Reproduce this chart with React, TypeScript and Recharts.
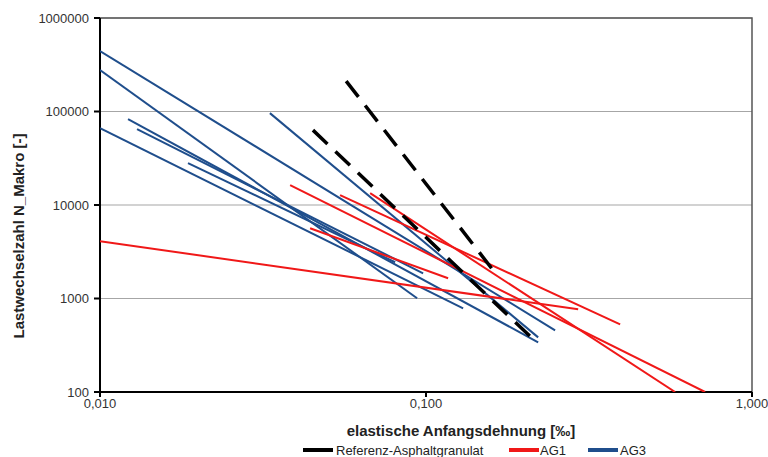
import React from 'react';
import { ScatterChart, Scatter, XAxis, YAxis, CartesianGrid, ReferenceArea } from 'recharts';

// x: elastische Anfangsdehnung [‰], y: Lastwechselzahl N_Makro [-]
const xTicks = [0.01, 0.1, 1];
const yTicks = [100, 1000, 10000, 100000, 1000000];

// Referenz-Asphaltgranulat (dashed black)
const ref1 = [{ x: 0.0569, y: 211600 }, { x: 0.1607, y: 2004 }];
const ref2 = [{ x: 0.045, y: 63200 }, { x: 0.2087, y: 394 }];

// AG1 (red)
const ag1a = [{ x: 0.01, y: 4097 }, { x: 0.2929, y: 766 }];
const ag1b = [{ x: 0.0383, y: 16290 }, { x: 0.718, y: 100 }];
const ag1c = [{ x: 0.0545, y: 12730 }, { x: 0.394, y: 529 }];
const ag1d = [{ x: 0.0674, y: 13380 }, { x: 0.581, y: 100 }];
const ag1e = [{ x: 0.0441, y: 5644 }, { x: 0.1169, y: 1646 }];

// AG3 (blue)
const ag3a = [{ x: 0.01, y: 443400 }, { x: 0.2489, y: 457 }];
const ag3b = [{ x: 0.01, y: 277500 }, { x: 0.0939, y: 1005 }];
const ag3c = [{ x: 0.01, y: 66400 }, { x: 0.13, y: 785 }];
const ag3d = [{ x: 0.01219, y: 82900 }, { x: 0.2208, y: 340 }];
const ag3e = [{ x: 0.01299, y: 64800 }, { x: 0.098, y: 1861 }];
const ag3f = [{ x: 0.01862, y: 28030 }, { x: 0.0804, y: 2441 }];
const ag3g = [{ x: 0.0332, y: 96100 }, { x: 0.2208, y: 384 }];

const refSeries = [ref1, ref2];
const ag1Series = [ag1a, ag1b, ag1c, ag1d, ag1e];
const ag3Series = [ag3a, ag3b, ag3c, ag3d, ag3e, ag3f, ag3g];

const BLUE = '#1f4e8c';
const RED = '#f01818';
const BLACK = '#000000';

const noShape = () => <g />;
const fmtX = (v: number) => v.toFixed(3).replace('.', ',');
const fmtY = (v: number) => String(v);

export default function App() {
  const font = '"Liberation Sans", Arial, sans-serif';
  return (
    <div style={{ position: 'absolute', left: 0, top: 0, width: 768, height: 457, fontFamily: font, background: '#fff' }}>
      <ScatterChart width={768} height={457} margin={{ top: 18, right: 16, bottom: 35, left: 0 }}>
        <CartesianGrid vertical={false} stroke="#a6a6a6" strokeWidth={1.2} />
        <ReferenceArea x1={0.01} x2={1} y1={100} y2={1000000} fill="none" stroke="#555" strokeWidth={1.5} ifOverflow="extendDomain" />
        <XAxis
          type="number"
          dataKey="x"
          scale="log"
          domain={[0.01, 1]}
          ticks={xTicks}
          tickFormatter={fmtX}
          allowDataOverflow
          height={30}
          stroke="#000"
          strokeWidth={2}
          tickSize={5}
          tick={{ fill: '#333', fontSize: 13, fontFamily: font }}
        />
        <YAxis
          type="number"
          dataKey="y"
          scale="log"
          domain={[100, 1000000]}
          ticks={yTicks}
          tickFormatter={fmtY}
          allowDataOverflow
          width={100}
          stroke="#000"
          strokeWidth={2}
          tickSize={6}
          tickMargin={5}
          tick={{ fill: '#333', fontSize: 13, fontFamily: font }}
        />
        {ag3Series.map((d, i) => (
          <Scatter key={'b' + i} data={d} line={{ stroke: BLUE, strokeWidth: 2 }} shape={noShape} isAnimationActive={false} />
        ))}
        {ag1Series.map((d, i) => (
          <Scatter key={'r' + i} data={d} line={{ stroke: RED, strokeWidth: 2 }} shape={noShape} isAnimationActive={false} />
        ))}
        {refSeries.map((d, i) => (
          <Scatter key={'k' + i} data={d} line={{ stroke: BLACK, strokeWidth: 3.5, strokeDasharray: '20 11' }} shape={noShape} isAnimationActive={false} />
        ))}
      </ScatterChart>

      <div style={{ position: 'absolute', left: 18, top: 236, transform: 'translate(-50%, -50%) rotate(-90deg)', whiteSpace: 'nowrap', fontWeight: 'bold', fontSize: 15, color: '#222' }}>
        Lastwechselzahl N_Makro [-]
      </div>
      <div style={{ position: 'absolute', left: 461, top: 430, transform: 'translate(-50%, -50%)', whiteSpace: 'nowrap', fontWeight: 'bold', fontSize: 15, color: '#222' }}>
        elastische Anfangsdehnung [‰]
      </div>

      <div style={{ position: 'absolute', left: 303, top: 448, width: 30, height: 4, background: BLACK }} />
      <div style={{ position: 'absolute', left: 336, top: 450, transform: 'translateY(-50%)', whiteSpace: 'nowrap', fontSize: 13, color: '#222' }}>Referenz-Asphaltgranulat</div>
      <div style={{ position: 'absolute', left: 509, top: 448, width: 30, height: 4, background: RED }} />
      <div style={{ position: 'absolute', left: 540, top: 450, transform: 'translateY(-50%)', whiteSpace: 'nowrap', fontSize: 13, color: '#222' }}>AG1</div>
      <div style={{ position: 'absolute', left: 588, top: 448, width: 30, height: 4, background: BLUE }} />
      <div style={{ position: 'absolute', left: 620, top: 450, transform: 'translateY(-50%)', whiteSpace: 'nowrap', fontSize: 13, color: '#222' }}>AG3</div>
    </div>
  );
}
